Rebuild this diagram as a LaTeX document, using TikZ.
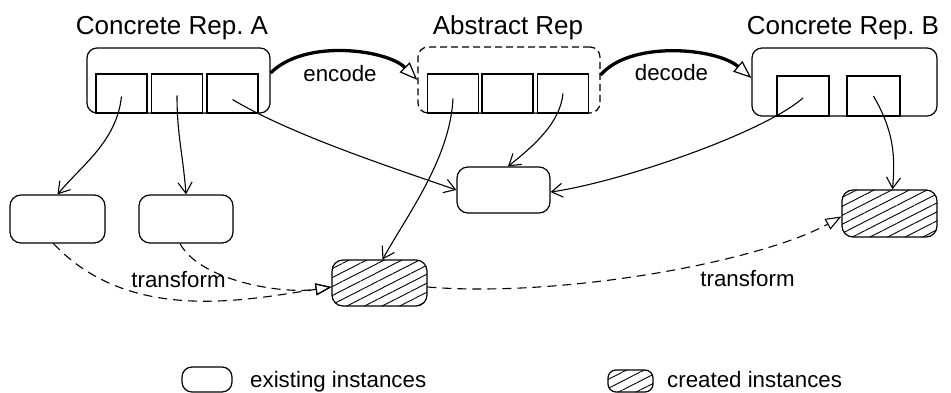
\documentclass[tikz,border=0pt]{standalone}
\usepackage{fontspec}
\setmainfont{Liberation Sans}
\usetikzlibrary{arrows.meta,patterns.meta}

\begin{document}
\frenchspacing
\begin{tikzpicture}[x=1pt,y=-1pt,
  box/.style={draw, line width=1.2pt, rounded corners=10pt, inner sep=0pt},
  inst/.style={box, rounded corners=11pt},
  made/.style={inst, pattern={Lines[angle=27,distance=8pt,line width=0.9pt]}},
  slot/.style={draw, line width=1.2pt, inner sep=0pt, minimum width=51pt, minimum height=39pt},
  title/.style={font=\fontsize{26}{30}\selectfont, anchor=base, inner sep=0pt},
  lbl/.style={font=\fontsize{22.3}{26}\selectfont, anchor=base, inner sep=0pt},
  link/.style={line width=1.1pt, -{Straight Barb[length=11pt,width=14pt,line width=1.1pt]}},
  codec/.style={line width=3.3pt, -{Triangle[open,length=18pt,width=14pt,line width=1.2pt]}},
  xform/.style={line width=1.1pt, dash pattern=on 9pt off 6pt,
                -{Triangle[open,length=16pt,width=12pt,line width=1.1pt]}},
]
\fill[white] (0,0) rectangle (951,393);
\useasboundingbox (0,0) rectangle (951,393);

% representations
\node[box, minimum width=183pt, minimum height=65pt] (A) at (178.5,80.5) {};
\node[slot] (a1) at (121.5,93.5) {};
\node[slot] (a2) at (177,93.5) {};
\node[slot] (a3) at (232.5,93.5) {};

\node[box, dash pattern=on 7pt off 4pt, minimum width=182pt, minimum height=66pt] (R) at (509,80) {};
\node[slot] (r1) at (453,93.5) {};
\node[slot] (r2) at (507.5,93.5) {};
\node[slot] (r3) at (563,93.5) {};

\node[box, minimum width=185pt, minimum height=68pt] (B) at (844.5,82) {};
\node[slot, minimum width=52pt, minimum height=40pt] (b1) at (803,96) {};
\node[slot, minimum width=53pt, minimum height=40pt] (b2) at (873.5,96) {};

\node[title] (tA) at (172,35) {Concrete Rep. A};
\node[title] (tR) at (508,35) {Abstract Rep};
\node[title] (tB) at (843,35) {Concrete Rep. B};

% instances
\node[inst, minimum width=95pt, minimum height=48pt] (L1) at (57.5,219) {};
\node[inst, minimum width=94pt, minimum height=48pt] (L2) at (186,219) {};
\node[inst, minimum width=93pt, minimum height=46pt] (M) at (503.5,190) {};
\node[made, minimum width=95pt, minimum height=46pt] (H1) at (379.5,283) {};
\node[made, minimum width=95pt, minimum height=47pt] (H2) at (889.5,213.5) {};

% encode / decode
\draw[codec] ([yshift=7.5pt]A.east) .. controls +(35,-35) and +(-30,-30) .. (R.west);
\draw[codec] ([yshift=5pt]R.east) .. controls +(30,-35) and +(-35,-30) .. ([yshift=4pt]B.west);
\node[lbl] (enc) at (340,82) {encode};
\node[lbl] (dec) at (671.5,81) {decode};

% references
\draw[link] ([yshift=-3pt]a1.center) .. controls +(-5,45) and +(25,-30) .. (L1.north);
\draw[link] ([yshift=-2pt]a2.center) .. controls +(0,40) and +(-3,-40) .. (L2.north);
\draw[link] ([yshift=-6pt]a3.center) .. controls +(60,36) and +(-60,-21) .. (M.west);
\draw[link] ([yshift=-5pt]r1.center) .. controls +(-3,60) and +(25,-45) .. ([xshift=3pt]H1.north);
\draw[link] (r3.center) .. controls +(-3,30) and +(25,-20) .. ([xshift=4.5pt]M.north);
\draw[link] ([yshift=-2pt]b1.center) .. controls +(-40,35) and +(70,-10) .. ([yshift=-2pt]M.east);
\draw[link] (b2.center) .. controls +(20,35) and +(3,-35) .. ([xshift=3pt]H2.north);

% transforms
\draw[xform] ([xshift=-4pt]L1.south) .. controls +(77,82) and +(-81,12) .. ([yshift=-4pt]H1.west);
\draw[xform] ([xshift=-6pt]L2.south) .. controls +(20,37) and +(-50,7.5) .. ([yshift=-4pt]H1.west);
\draw[xform] ([yshift=-4pt]H1.east) .. controls +(133,11) and +(-82,45.5) .. ([yshift=-3pt]H2.west);
\node[lbl] (tf1) at (178.5,287) {transform};
\node[lbl] (tf2) at (747.5,286) {transform};

% legend
\node[inst, rounded corners=10pt, minimum width=50pt, minimum height=25pt] (kE) at (207,379.5) {};
\node[lbl, anchor=base west] (kEt) at (250,387) {existing instances};
\node[made, rounded corners=8pt, minimum width=45pt, minimum height=22pt] (kC) at (630.5,381) {};
\node[lbl, anchor=base west] (kCt) at (667,387) {created instances};
\end{tikzpicture}
\end{document}
